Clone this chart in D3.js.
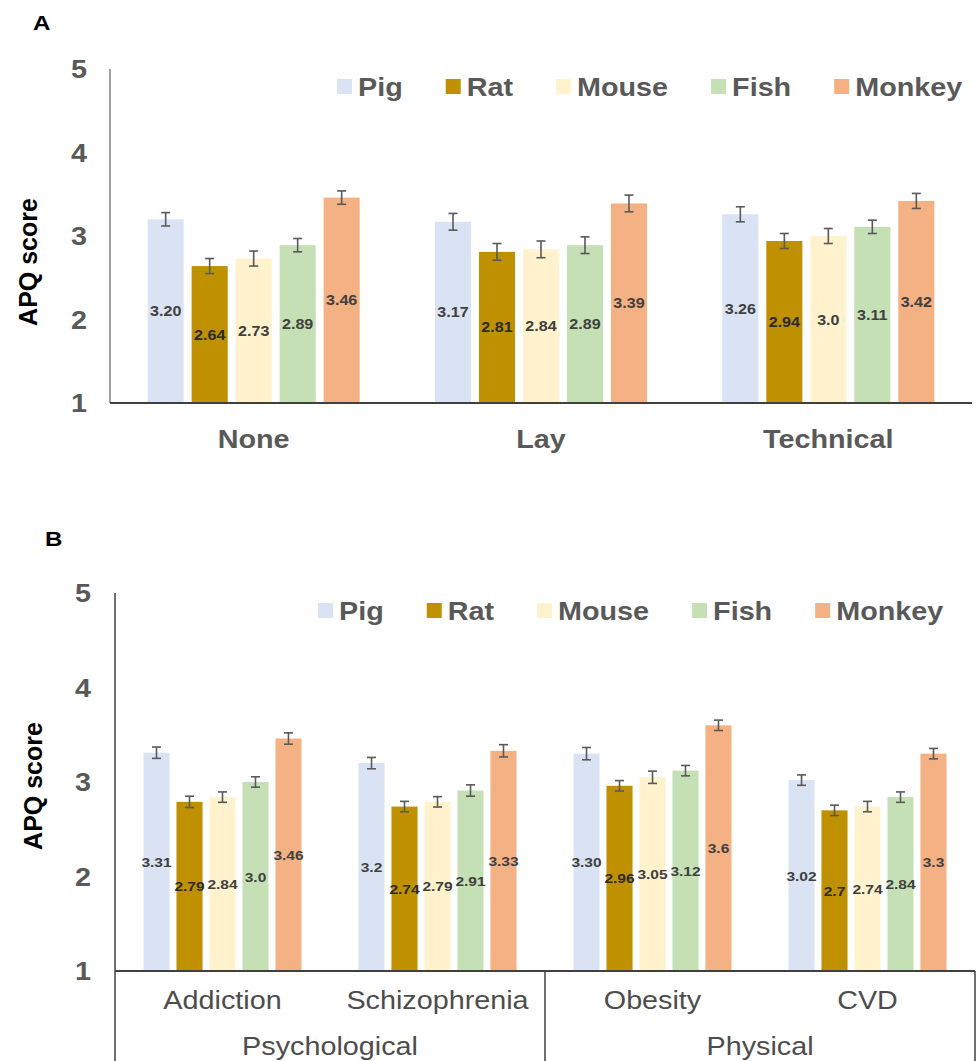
<!DOCTYPE html>
<html>
<head>
<meta charset="utf-8">
<script src="https://cdn.jsdelivr.net/npm/d3@7"></script>
<style>
  body { margin: 0; background: #fff; }
  svg { display: block; font-family: "Liberation Sans", Arial, sans-serif; }
</style>
</head>
<body>
<div id="chart"></div>
<script>
// series + colours
const series = ['Pig', 'Rat', 'Mouse', 'Fish', 'Monkey'];
const seriesColors = ['#dae3f3', '#bf9000', '#fff2cc', '#c5e0b4', '#f4b183'];
const yTicks = [1, 2, 3, 4, 5];

// panel A
const catsA = ['None', 'Lay', 'Technical'];
const valuesA = [
  [3.20, 2.64, 2.73, 2.89, 3.46],
  [3.17, 2.81, 2.84, 2.89, 3.39],
  [3.26, 2.94, 3.00, 3.11, 3.42]
];
const labelsA = [
  ['3.20', '2.64', '2.73', '2.89', '3.46'],
  ['3.17', '2.81', '2.84', '2.89', '3.39'],
  ['3.26', '2.94', '3.0', '3.11', '3.42']
];
const errorsA = [
  [0.08, 0.09, 0.09, 0.08, 0.08],
  [0.10, 0.10, 0.10, 0.10, 0.10],
  [0.09, 0.09, 0.09, 0.08, 0.09]
];

// panel B
const catsB = ['Addiction', 'Schizophrenia', 'Obesity', 'CVD'];
const groupOfB = ['Psychological', 'Psychological', 'Physical', 'Physical'];
const groupsB = ['Psychological', 'Physical'];
const valuesB = [
  [3.31, 2.79, 2.84, 3.00, 3.46],
  [3.20, 2.74, 2.79, 2.91, 3.33],
  [3.30, 2.96, 3.05, 3.12, 3.60],
  [3.02, 2.70, 2.74, 2.84, 3.30]
];
const labelsB = [
  ['3.31', '2.79', '2.84', '3.0', '3.46'],
  ['3.2', '2.74', '2.79', '2.91', '3.33'],
  ['3.30', '2.96', '3.05', '3.12', '3.6'],
  ['3.02', '2.7', '2.74', '2.84', '3.3']
];
const errorsB = [
  [0.06, 0.06, 0.055, 0.055, 0.06],
  [0.06, 0.055, 0.055, 0.06, 0.065],
  [0.065, 0.055, 0.065, 0.055, 0.055],
  [0.055, 0.055, 0.055, 0.055, 0.055]
];

const width = 976;
const height = 1061;
const SX = 1.15; // the source picture is a bit stretched sideways
const grey = '#595959';

const svg = d3.select('#chart').append('svg')
  .attr('width', width)
  .attr('height', height);

// text helper, stretched horizontally like the original
function stext(g, x, y, str) {
  return g.append('text')
    .attr('transform', `translate(${x},${y}) scale(${SX},1)`)
    .text(str);
}

function drawPanel(cfg) {
  const g = svg.append('g');
  const y = d3.scaleLinear().domain([1, 5]).range([cfg.y0, cfg.y1]);
  const x0 = d3.scaleBand().domain(cfg.cats).range([cfg.left, cfg.right])
    .paddingInner(cfg.padOuter * 2).paddingOuter(cfg.padOuter);
  const x1 = d3.scaleBand().domain(series).range([0, x0.bandwidth()])
    .paddingInner(cfg.padBar);

  // panel letter
  stext(g, cfg.letterX, cfg.letterY, cfg.letter)
    .attr('font-size', 21).attr('font-weight', 'bold').attr('fill', '#000');

  // y tick labels
  yTicks.forEach(t => {
    stext(g, cfg.tickX, y(t) + 9, t)
      .attr('text-anchor', 'middle')
      .attr('font-size', 25).attr('font-weight', 'bold').attr('fill', grey);
  });

  // y title
  g.append('text')
    .attr('transform', `translate(${cfg.titleX},${cfg.titleY}) rotate(-90)`)
    .attr('text-anchor', 'middle')
    .attr('font-size', 25).attr('font-weight', 'bold').attr('fill', '#000')
    .text('APQ score');

  // bars
  const rows = [];
  cfg.cats.forEach((c, i) => series.forEach((s, j) => rows.push({
    cat: c, s, j, v: cfg.values[i][j], e: cfg.errors[i][j], label: cfg.labels[i][j]
  })));

  const barG = g.append('g');
  barG.selectAll('rect').data(rows).enter().append('rect')
    .attr('x', d => x0(d.cat) + x1(d.s))
    .attr('y', d => y(d.v))
    .attr('width', x1.bandwidth())
    .attr('height', d => y(1) - y(d.v))
    .attr('fill', d => seriesColors[d.j]);

  // error bars
  const cap = 4.5;
  const errG = g.append('g').attr('stroke', grey).attr('stroke-width', 1.6);
  rows.forEach(d => {
    const cx = x0(d.cat) + x1(d.s) + x1.bandwidth() / 2;
    errG.append('line').attr('x1', cx).attr('x2', cx).attr('y1', y(d.v + d.e)).attr('y2', y(d.v - d.e));
    errG.append('line').attr('x1', cx - cap).attr('x2', cx + cap).attr('y1', y(d.v + d.e)).attr('y2', y(d.v + d.e));
    errG.append('line').attr('x1', cx - cap).attr('x2', cx + cap).attr('y1', y(d.v - d.e)).attr('y2', y(d.v - d.e));
  });

  // value labels in the middle of each bar
  rows.forEach(d => {
    const cx = x0(d.cat) + x1(d.s) + x1.bandwidth() / 2;
    stext(g, cx, (y(1) + y(d.v)) / 2 + 5, d.label)
      .attr('text-anchor', 'middle')
      .attr('font-size', cfg.valueSize).attr('font-weight', 'bold')
      .attr('fill', d.j === 1 ? '#2b2b2b' : '#404040');
  });

  // axes
  g.append('line')
    .attr('x1', cfg.left).attr('x2', cfg.left)
    .attr('y1', cfg.y1).attr('y2', cfg.axisBottom)
    .attr('stroke', cfg.yAxisColor).attr('stroke-width', 1.5);
  g.append('line')
    .attr('x1', cfg.left).attr('x2', cfg.right)
    .attr('y1', y(1)).attr('y2', y(1))
    .attr('stroke', '#404040').attr('stroke-width', 2);

  // category labels
  cfg.cats.forEach(c => {
    stext(g, x0(c) + x0.bandwidth() / 2, cfg.catY, c)
      .attr('text-anchor', 'middle')
      .attr('font-size', cfg.catSize).attr('font-weight', cfg.catWeight)
      .attr('fill', cfg.catColor);
  });

  // legend
  let lx = cfg.legendX;
  series.forEach((s, j) => {
    g.append('rect')
      .attr('x', lx).attr('y', cfg.legendY - 8)
      .attr('width', 15).attr('height', 15)
      .attr('fill', seriesColors[j]);
    const t = stext(g, lx + 21, cfg.legendY + 9, s)
      .attr('font-size', 25).attr('font-weight', 'bold').attr('fill', grey);
    lx += 21 + t.node().getComputedTextLength() * SX + 43;
  });

  return { g, x0, y };
}

drawPanel({
  letter: 'A', letterX: 33, letterY: 30,
  cats: catsA, values: valuesA, labels: labelsA, errors: errorsA,
  left: 110, right: 972, y0: 403, y1: 69,
  padOuter: 0.131, padBar: 0.18,
  tickX: 79, titleX: 37, titleY: 262, yAxisColor: '#808080', axisBottom: 403,
  valueSize: 14, catY: 448, catSize: 25, catWeight: 'bold', catColor: grey,
  legendX: 337, legendY: 87
});

const pB = drawPanel({
  letter: 'B', letterX: 45, letterY: 546,
  cats: catsB, values: valuesB, labels: labelsB, errors: errorsB,
  left: 115, right: 975, y0: 971, y1: 593,
  padOuter: 0.1325, padBar: 0.21,
  tickX: 83, titleX: 42, titleY: 786, yAxisColor: '#404040', axisBottom: height,
  valueSize: 13.5, catY: 1009, catSize: 25, catWeight: 'normal', catColor: '#4d4d4d',
  legendX: 318, legendY: 611
});

// panel B: grouped category box below the axis
const step = pB.x0.step();
groupsB.forEach(grp => {
  const members = catsB.filter((c, i) => groupOfB[i] === grp);
  const gx0 = pB.x0(members[0]) - step * 0.1325;
  const gx1 = pB.x0(members[members.length - 1]) + pB.x0.bandwidth() + step * 0.1325;
  pB.g.append('line')
    .attr('x1', gx1).attr('x2', gx1)
    .attr('y1', pB.y(1)).attr('y2', height)
    .attr('stroke', '#404040').attr('stroke-width', 1.5);
  stext(pB.g, (gx0 + gx1) / 2, 1055, grp)
    .attr('text-anchor', 'middle')
    .attr('font-size', 25).attr('fill', '#4d4d4d');
});
</script>
</body>
</html>
